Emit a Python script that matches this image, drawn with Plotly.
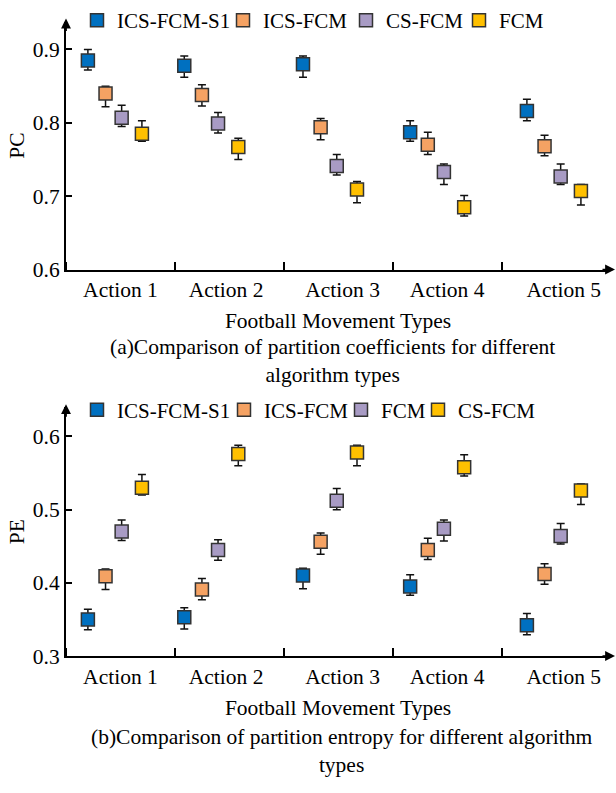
import plotly.graph_objects as go

# ---- data -------------------------------------------------------------
actions = ["Action 1", "Action 2", "Action 3", "Action 4", "Action 5"]

pc_names = ["ICS-FCM-S1", "ICS-FCM", "CS-FCM", "FCM"]
pc_mean = [
    [0.885, 0.878, 0.880, 0.787, 0.816],
    [0.840, 0.838, 0.794, 0.770, 0.768],
    [0.807, 0.799, 0.741, 0.733, 0.727],
    [0.785, 0.767, 0.709, 0.685, 0.707],
]
pc_high = [
    [0.900, 0.891, 0.891, 0.803, 0.832],
    [0.850, 0.852, 0.806, 0.787, 0.783],
    [0.824, 0.814, 0.757, 0.744, 0.744],
    [0.803, 0.779, 0.720, 0.701, 0.716],
]
pc_low = [
    [0.872, 0.862, 0.862, 0.775, 0.803],
    [0.822, 0.823, 0.777, 0.757, 0.755],
    [0.795, 0.786, 0.729, 0.716, 0.716],
    [0.775, 0.750, 0.691, 0.673, 0.688],
]

pe_names = ["ICS-FCM-S1", "ICS-FCM", "FCM", "CS-FCM"]
pe_mean = [
    [0.350, 0.353, 0.410, 0.395, 0.342],
    [0.409, 0.391, 0.456, 0.445, 0.412],
    [0.470, 0.445, 0.512, 0.474, 0.464],
    [0.530, 0.576, 0.578, 0.558, 0.526],
]
pe_high = [
    [0.364, 0.366, 0.420, 0.411, 0.358],
    [0.419, 0.406, 0.468, 0.461, 0.426],
    [0.486, 0.459, 0.529, 0.486, 0.481],
    [0.548, 0.588, 0.588, 0.575, 0.535],
]
pe_low = [
    [0.336, 0.337, 0.392, 0.383, 0.329],
    [0.391, 0.377, 0.439, 0.432, 0.398],
    [0.458, 0.431, 0.500, 0.457, 0.453],
    [0.520, 0.560, 0.560, 0.546, 0.507],
]

# ---- layout helpers -----------------------------------------------------
colors = ["#0070C0", "#F5A263", "#A89BC4", "#FFC000"]
slot_offset = [0.171, 0.333, 0.481, 0.667]          # position of each series inside a band
band_shift = [0.03, -0.085, 0.005, -0.011, 0.061]   # per-band nudge
label_pos = [0.5, 1.47, 2.54, 3.5, 4.57]

FONT = "Times New Roman, Liberation Serif, serif"
FS = 21.5
W, H = 616, 793
X0, X1 = 66, 610


def px_x(p):
    return p / W


def px_y(p):
    return 1 - p / H


fig = go.Figure()

panels = [
    dict(names=pc_names, mean=pc_mean, high=pc_high, low=pc_low, xa="x", ya="y",
         legends=["legend", "legend2", "legend3", "legend4"]),
    dict(names=pe_names, mean=pe_mean, high=pe_high, low=pe_low, xa="x2", ya="y2",
         legends=["legend5", "legend6", "legend7", "legend8"]),
]

for panel in panels:
    for s, name in enumerate(panel["names"]):
        xs = [b + slot_offset[s] + band_shift[b] for b in range(len(actions))]
        m = panel["mean"][s]
        up = [h - v for h, v in zip(panel["high"][s], m)]
        dn = [v - l for v, l in zip(m, panel["low"][s])]
        fig.add_trace(go.Scatter(
            x=xs, y=m, mode="markers", name=name, showlegend=True,
            xaxis=panel["xa"], yaxis=panel["ya"], legend=panel["legends"][s],
            marker=dict(symbol="square", size=13, color=colors[s],
                        line=dict(color="#333333", width=1.5)),
            error_y=dict(type="data", symmetric=False, array=up, arrayminus=dn,
                         color="#111111", thickness=1.5, width=4),
            cliponaxis=False,
        ))

axis_common = dict(
    showline=True, linecolor="black", linewidth=2, showgrid=False, zeroline=False,
    tickfont=dict(family=FONT, size=FS, color="black"),
)


def x_axis(anchor):
    return dict(domain=[px_x(X0), px_x(X1)], range=[0, 4.995], anchor=anchor,
                tickvals=label_pos, ticktext=actions, ticks="",
                minor=dict(tickmode="linear", tick0=0, dtick=1, ticks="inside",
                           ticklen=8, tickwidth=1.5, tickcolor="black"),
                title=dict(text="Football Movement Types", standoff=12,
                           font=dict(family=FONT, size=FS)),
                **axis_common)


fig.update_layout(
    width=W, height=H, autosize=False, margin=dict(l=0, r=0, t=0, b=0, pad=0),
    paper_bgcolor="white", plot_bgcolor="white", showlegend=True,
    font=dict(family=FONT, size=FS, color="black"),
    xaxis=x_axis("y"),
    yaxis=dict(domain=[px_y(270), px_y(16)], range=[0.6, 0.938], anchor="x",
               tickvals=[0.6, 0.7, 0.8, 0.9], ticktext=["0.6", "0.7", "0.8", "0.9"],
               ticks="inside", ticklen=6, tickwidth=1.5, tickcolor="black",
               title=dict(text="PC", standoff=2, font=dict(family=FONT, size=FS)),
               **axis_common),
    xaxis2=x_axis("y2"),
    yaxis2=dict(domain=[px_y(666), px_y(411)], range=[0.3, 0.64], anchor="x2",
                tickvals=[0.3, 0.4, 0.5, 0.6], ticktext=["0.3", "0.4", "0.5", "0.6"],
                ticks="inside", ticklen=6, tickwidth=1.5, tickcolor="black",
                title=dict(text="PE", standoff=2, font=dict(family=FONT, size=FS)),
                **axis_common),
)

# one single-entry legend per series so each label sits where it belongs
legend_text_x = [[115, 261, 384, 497], [115, 262, 379, 456]]
legend_y = [15, 414]
legend_ids = [panels[0]["legends"], panels[1]["legends"]]
for p in range(2):
    for s in range(4):
        fig.update_layout({legend_ids[p][s]: dict(
            x=px_x(legend_text_x[p][s] - 38), y=px_y(legend_y[p]),
            xanchor="left", yanchor="middle", orientation="h",
            bgcolor="rgba(0,0,0,0)", borderwidth=0,
            font=dict(family=FONT, size=21, color="black"),
        )})

# axis arrowheads
for xd, yd in [("x", "y"), ("x2", "y2")]:
    fig.add_annotation(x=1, y=0, xref=f"{xd} domain", yref=f"{yd} domain",
                       ax=-14, ay=0, axref="pixel", ayref="pixel", xshift=5,
                       showarrow=True, arrowhead=2, arrowsize=1.1, arrowwidth=1.8,
                       arrowcolor="black", text="")
    fig.add_annotation(x=0, y=1, xref=f"{xd} domain", yref=f"{yd} domain",
                       ax=0, ay=14, axref="pixel", ayref="pixel", yshift=3,
                       showarrow=True, arrowhead=2, arrowsize=1.1, arrowwidth=1.8,
                       arrowcolor="black", text="")

# panel captions
captions = [
    ("(a)Comparison of partition coefficients for different<br>algorithm types", 332, 364),
    ("(b)Comparison of partition entropy for different algorithm<br>types", 341, 763),
]
for text, cx, cy in captions:
    fig.add_annotation(x=px_x(cx), y=px_y(cy), xref="paper", yref="paper",
                       text=text, showarrow=False, xanchor="center", yanchor="middle",
                       font=dict(family=FONT, size=FS, color="black"))

fig.write_html("out.html")
